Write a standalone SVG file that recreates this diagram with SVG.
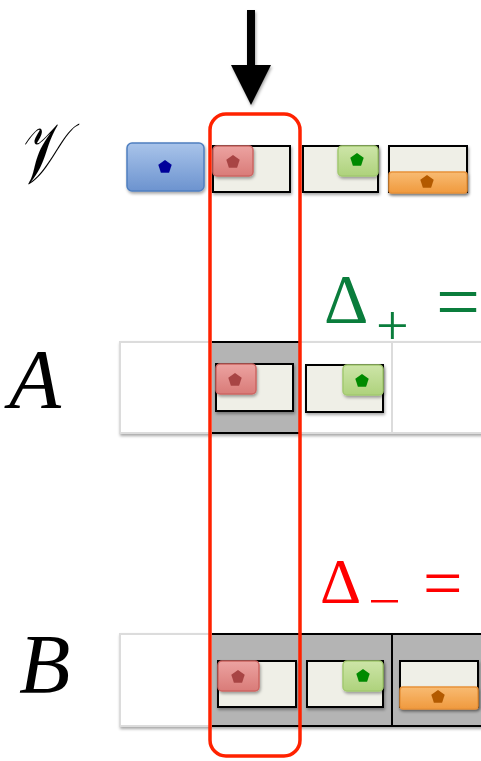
<svg xmlns="http://www.w3.org/2000/svg" width="481" height="761" viewBox="0 0 481 761">
<defs>
<filter id="sh" x="-20%" y="-20%" width="150%" height="160%"><feDropShadow dx="1" dy="2" stdDeviation="1.5" flood-color="#000" flood-opacity="0.35"/></filter>
<linearGradient id="gBlue" x1="0" y1="0" x2="0" y2="1"><stop offset="0" stop-color="#a9c4ea"/><stop offset="1" stop-color="#6c93cf"/></linearGradient>
<linearGradient id="gRed" x1="0" y1="0" x2="0" y2="1"><stop offset="0" stop-color="#eca3a1"/><stop offset="1" stop-color="#d97b78"/></linearGradient>
<linearGradient id="gGreen" x1="0" y1="0" x2="0" y2="1"><stop offset="0" stop-color="#cde5a8"/><stop offset="1" stop-color="#aed27c"/></linearGradient>
<linearGradient id="gOrange" x1="0" y1="0" x2="0" y2="1"><stop offset="0" stop-color="#f8bb72"/><stop offset="1" stop-color="#f09a3e"/></linearGradient>
<path id="pent" d="M0,-7 L6.7,-2.2 L4.1,5.7 L-4.1,5.7 L-6.7,-2.2 Z"/>
</defs>
<style>
.lbl{font-family:"Liberation Serif","DejaVu Serif",serif;font-style:italic;fill:#000}
.math{font-family:"Liberation Serif","DejaVu Serif",serif}
.box{fill:#efefe7;stroke:#000;stroke-width:2}
.red{fill:url(#gRed);stroke:#cc6562;stroke-width:1.5}
.green{fill:url(#gGreen);stroke:#a3c970;stroke-width:1.5}
.orange{fill:url(#gOrange);stroke:#e8923a;stroke-width:1.5}
.blue{fill:url(#gBlue);stroke:#4f7fc0;stroke-width:1.5}
.row{fill:#fff;stroke:#dcdcdc;stroke-width:2}
.cellg{fill:#b4b4b4}
</style>

<g id="labels">
<text class="lbl" font-size="86" transform="translate(17,183) scale(0.64,1)">𝒱</text>
<text class="lbl" x="9" y="408" font-size="85">A</text>
<text class="lbl" x="19" y="693" font-size="84">B</text>
</g>

<g id="delta-plus" fill="#0a7d3c">
<text class="math" x="324" y="323" font-size="69">Δ</text>
<text class="math" x="376" y="345" font-size="58">+</text>
<text class="math" x="436" y="328" font-size="78">=</text>
</g>
<g id="delta-minus" fill="#ff0000">
<text class="math" x="320" y="603" font-size="64">Δ</text>
<rect x="371" y="600" width="27" height="2.5"/>
<text class="math" x="423" y="607" font-size="70">=</text>
</g>

<g id="rowV">
<g id="v1" filter="url(#sh)"><rect class="blue" x="127" y="143" width="77" height="48" rx="5"/><use href="#pent" x="165" y="167" fill="#00069a"/></g>
<g id="v2"><rect class="box" x="213" y="146" width="77" height="46" filter="url(#sh)"/><rect class="red" x="213" y="146" width="40" height="30" rx="4" filter="url(#sh)"/><use href="#pent" x="233" y="162" fill="#a84444"/></g>
<g id="v3"><rect class="box" x="303" y="146" width="75" height="46" filter="url(#sh)"/><rect class="green" x="338" y="146" width="40" height="30" rx="4" filter="url(#sh)"/><use href="#pent" x="357" y="160" fill="#008a00"/></g>
<g id="v4"><rect class="box" x="389" y="146" width="78" height="46" filter="url(#sh)"/><rect class="orange" x="389" y="172" width="78" height="21" rx="3" filter="url(#sh)"/><use href="#pent" x="427" y="182" fill="#b35a00"/></g>
</g>

<g id="rowA">
<rect class="row" x="120" y="342" width="380" height="91" filter="url(#sh)"/>
<rect class="cellg" x="212" y="342" width="88" height="91"/>
<line x1="212" y1="342" x2="300" y2="342" stroke="#000" stroke-width="2"/>
<line x1="212" y1="433" x2="300" y2="433" stroke="#000" stroke-width="2"/>
<line x1="392" y1="342" x2="392" y2="433" stroke="#dcdcdc" stroke-width="2"/>
<g id="a1"><rect class="box" x="216" y="364" width="77" height="47" filter="url(#sh)"/><rect class="red" x="216" y="364" width="40" height="30" rx="4" filter="url(#sh)"/><use href="#pent" x="235" y="380" fill="#a84444"/></g>
<g id="a2"><rect class="box" x="306" y="365" width="77" height="47" filter="url(#sh)"/><rect class="green" x="343" y="365" width="40" height="30" rx="4" filter="url(#sh)"/><use href="#pent" x="362" y="381" fill="#008a00"/></g>
</g>

<g id="rowB">
<rect class="row" x="120" y="634" width="380" height="92" filter="url(#sh)"/>
<rect class="cellg" x="212" y="634" width="290" height="92"/>
<line x1="212" y1="634" x2="481" y2="634" stroke="#000" stroke-width="2"/>
<line x1="212" y1="726" x2="481" y2="726" stroke="#000" stroke-width="2"/>
<line x1="392" y1="634" x2="392" y2="726" stroke="#000" stroke-width="2"/>
<g id="b1"><rect class="box" x="218" y="661" width="78" height="46" filter="url(#sh)"/><rect class="red" x="218" y="661" width="41" height="30" rx="4" filter="url(#sh)"/><use href="#pent" x="238" y="677" fill="#a84444"/></g>
<g id="b2"><rect class="box" x="307" y="661" width="76" height="46" filter="url(#sh)"/><rect class="green" x="343" y="661" width="40" height="30" rx="4" filter="url(#sh)"/><use href="#pent" x="363" y="676" fill="#008a00"/></g>
<g id="b3"><rect class="box" x="400" y="661" width="78" height="46" filter="url(#sh)"/><rect class="orange" x="400" y="687" width="78" height="22" rx="3" filter="url(#sh)"/><use href="#pent" x="438" y="697" fill="#b35a00"/></g>
</g>

<g id="connectors">
<rect id="highlight" x="210" y="114" width="90" height="642" rx="16" fill="none" stroke="#ff2200" stroke-width="3.5"/>
<g id="arrow" filter="url(#sh)">
<rect x="247" y="10" width="8" height="57" fill="#000"/>
<polygon points="231,65 271,65 251,105" fill="#000"/>
</g>
</g>
</svg>
